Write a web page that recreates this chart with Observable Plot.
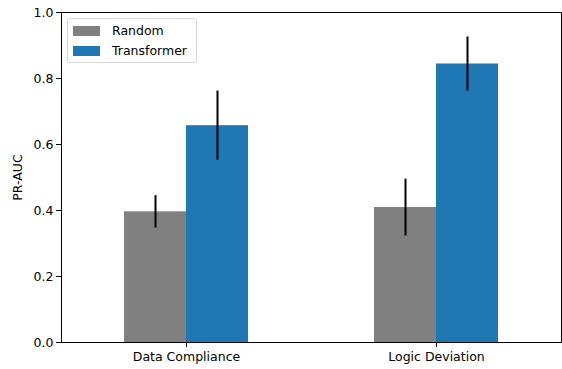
<!DOCTYPE html>
<html>
<head>
<meta charset="utf-8">
<script src="https://cdn.jsdelivr.net/npm/d3@7"></script>
<script src="https://cdn.jsdelivr.net/npm/@observablehq/plot@0.6"></script>
<style>
  html, body { margin: 0; padding: 0; background: #fff; }
  #chart { position: relative; width: 562px; height: 369px; font-family: "DejaVu Sans", sans-serif; }
  .legend { position: absolute; left: 67px; top: 18px; width: 128px; height: 43px;
            border: 1px solid #d4d4d4; border-radius: 3px; background: rgba(255,255,255,0.8);
            font-size: 12.5px; color: #000; }
  .legend .item { position: absolute; left: 5px; height: 15px; display: flex; align-items: center; }
  .legend .sw { width: 27px; height: 10px; margin-right: 12px; }
</style>
</head>
<body>
<div id="chart"></div>
<script>
// Task categories and model series
const categories = ["Data Compliance", "Logic Deviation"];
const series = ["Random", "Transformer"];
const colors = ["#808080", "#1f77b4"];

// Mean PR-AUC and error (half-width of the error bar) per category
const randomMeans = [0.396, 0.409];
const randomErr = [0.049, 0.086];
const transformerMeans = [0.657, 0.844];
const transformerErr = [0.105, 0.082];

const yTicks = [0, 0.2, 0.4, 0.6, 0.8, 1.0];

const rows = [];
categories.forEach((c, i) => {
  rows.push({cat: c, series: "Random", value: randomMeans[i], err: randomErr[i]});
  rows.push({cat: c, series: "Transformer", value: transformerMeans[i], err: transformerErr[i]});
});

const chart = Plot.plot({
  width: 562,
  height: 369,
  marginLeft: 60,
  marginRight: 1,
  marginTop: 12,
  marginBottom: 27,
  style: {fontFamily: "DejaVu Sans, sans-serif", fontSize: "12.5px", color: "#000", background: "#fff"},
  fx: {domain: categories, padding: 0, label: null, axis: null},
  x: {domain: series, paddingInner: 0, paddingOuter: 1, axis: null},
  y: {domain: [0, 1], axis: null},
  color: {domain: series, range: colors},
  marks: [
    Plot.barY(rows, {fx: "cat", x: "series", y: "value", fill: "series"}),
    Plot.ruleX(rows, {fx: "cat", x: "series", y1: d => d.value - d.err, y2: d => d.value + d.err,
                      stroke: "#000", strokeWidth: 2}),
    Plot.axisY(yTicks, {tickSize: 5, tickPadding: 3, tickFormat: d3.format(".1f"),
                        label: "PR-AUC", labelAnchor: "center", labelArrow: "none", labelOffset: 48}),
    Plot.axisFx({anchor: "bottom", tickSize: 5, tickPadding: 5, label: null}),
    // one frame around the whole plot area, not per facet
    Plot.frame({facet: "super", stroke: "#000", strokeWidth: 1})
  ]
});

const root = document.getElementById("chart");
root.appendChild(chart);

// Legend drawn inside the upper-left corner of the plot area
const legend = document.createElement("div");
legend.className = "legend";
series.forEach((s, i) => {
  const item = document.createElement("div");
  item.className = "item";
  item.style.top = (4 + i * 20) + "px";
  const sw = document.createElement("span");
  sw.className = "sw";
  sw.style.background = colors[i];
  const label = document.createElement("span");
  label.textContent = s;
  item.appendChild(sw);
  item.appendChild(label);
  legend.appendChild(item);
});
root.appendChild(legend);
</script>
</body>
</html>
